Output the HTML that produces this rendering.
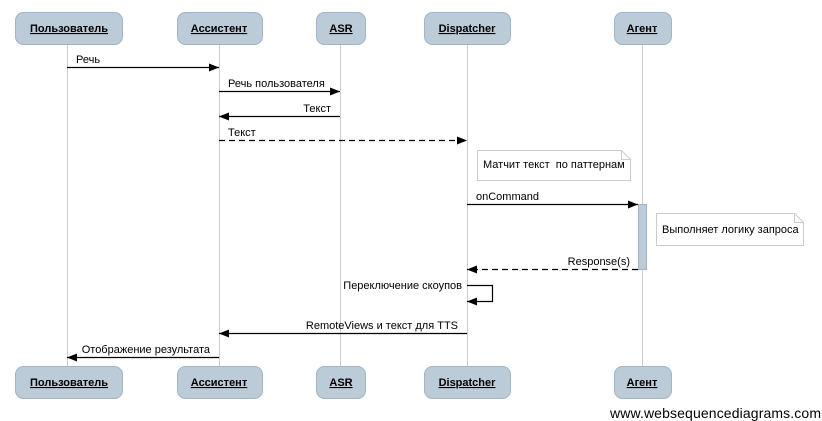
<html><body style="margin:0;background:#fff">
<svg width="822" height="421" xmlns="http://www.w3.org/2000/svg" font-family="Liberation Sans, sans-serif" font-size="11">
<defs>
<marker id="a" markerWidth="10" markerHeight="8" refX="10" refY="4" orient="auto" markerUnits="userSpaceOnUse"><path d="M0,0 L10,4 L0,8 z" fill="#000"/></marker>
</defs>
<g stroke="#ccc" stroke-width="1">
<line x1="67.5" y1="44" x2="67.5" y2="366"/><line x1="219.5" y1="44" x2="219.5" y2="366"/>
<line x1="340.5" y1="44" x2="340.5" y2="366"/><line x1="467.5" y1="44" x2="467.5" y2="366"/>
<line x1="642.5" y1="44" x2="642.5" y2="366"/>
</g>
<g fill="#bccbd8" stroke="#a3b4c4">
<rect x="15.5" y="12.5" width="107" height="32" rx="8"/><rect x="177.5" y="12.5" width="85" height="32" rx="8"/>
<rect x="316.5" y="12.5" width="49" height="32" rx="8"/><rect x="424.5" y="12.5" width="86" height="32" rx="8"/>
<rect x="614.5" y="12.5" width="57" height="32" rx="8"/>
<rect x="15.5" y="366.5" width="107" height="32" rx="8"/><rect x="177.5" y="366.5" width="85" height="32" rx="8"/>
<rect x="316.5" y="366.5" width="49" height="32" rx="8"/><rect x="424.5" y="366.5" width="86" height="32" rx="8"/>
<rect x="614.5" y="366.5" width="57" height="32" rx="8"/>
</g>
<g font-weight="bold" text-anchor="middle" text-decoration="underline" font-size="11">
<text x="69" y="32">Пользователь</text><text x="219" y="32">Ассистент</text><text x="341" y="32">ASR</text><text x="467" y="32">Dispatcher</text><text x="642" y="32">Агент</text>
<text x="69" y="386">Пользователь</text><text x="219" y="386">Ассистент</text><text x="341" y="386">ASR</text><text x="467" y="386">Dispatcher</text><text x="642" y="386">Агент</text>
</g>
<rect x="638.5" y="204.5" width="8" height="65" fill="#bccbd8" stroke="#a3b4c4"/>
<g fill="#fff" stroke="#ccc">
<path d="M477.5,150.5 H621.5 L630.5,159.5 V180.5 H477.5 Z"/><path d="M621.5,150.5 V159.5 H630.5" fill="none"/>
<path d="M656.5,213.5 H794.5 L803.5,222.5 V245.5 H656.5 Z"/><path d="M794.5,213.5 V222.5 H803.5" fill="none"/>
</g>
<g stroke="#000" stroke-width="1.2" fill="none">
<line x1="67" y1="67.5" x2="219" y2="67.5" marker-end="url(#a)"/>
<line x1="219" y1="91.5" x2="340" y2="91.5" marker-end="url(#a)"/>
<line x1="340" y1="116.5" x2="219" y2="116.5" marker-end="url(#a)"/>
<line x1="219" y1="140.5" x2="467" y2="140.5" stroke-dasharray="6,4" marker-end="url(#a)"/>
<line x1="467" y1="204.5" x2="638" y2="204.5" marker-end="url(#a)"/>
<line x1="638" y1="269.5" x2="467" y2="269.5" stroke-dasharray="6,4" marker-end="url(#a)"/>
<path d="M467,285.5 H492.5 V301.5 H467" marker-end="url(#a)"/>
<line x1="467" y1="333.5" x2="219" y2="333.5" marker-end="url(#a)"/>
<line x1="219" y1="357.5" x2="67" y2="357.5" marker-end="url(#a)"/>
</g>
<text x="76" y="63">Речь</text>
<text x="228" y="87">Речь пользователя</text>
<text x="331" y="112" text-anchor="end">Текст</text>
<text x="228" y="136">Текст</text>
<text x="483" y="168" xml:space="preserve">Матчит текст  по паттернам</text>
<text x="476" y="200">onCommand</text>
<text x="662" y="233">Выполняет логику запроса</text>
<text x="630" y="265" text-anchor="end">Response(s)</text>
<text x="462" y="289" text-anchor="end">Переключение скоупов</text>
<text x="458" y="329" text-anchor="end">RemoteViews и текст для TTS</text>
<text x="210" y="353" text-anchor="end">Отображение результата</text>
<text x="610" y="418" font-size="14" textLength="211">www.websequencediagrams.com</text>
</svg>
</body></html>
